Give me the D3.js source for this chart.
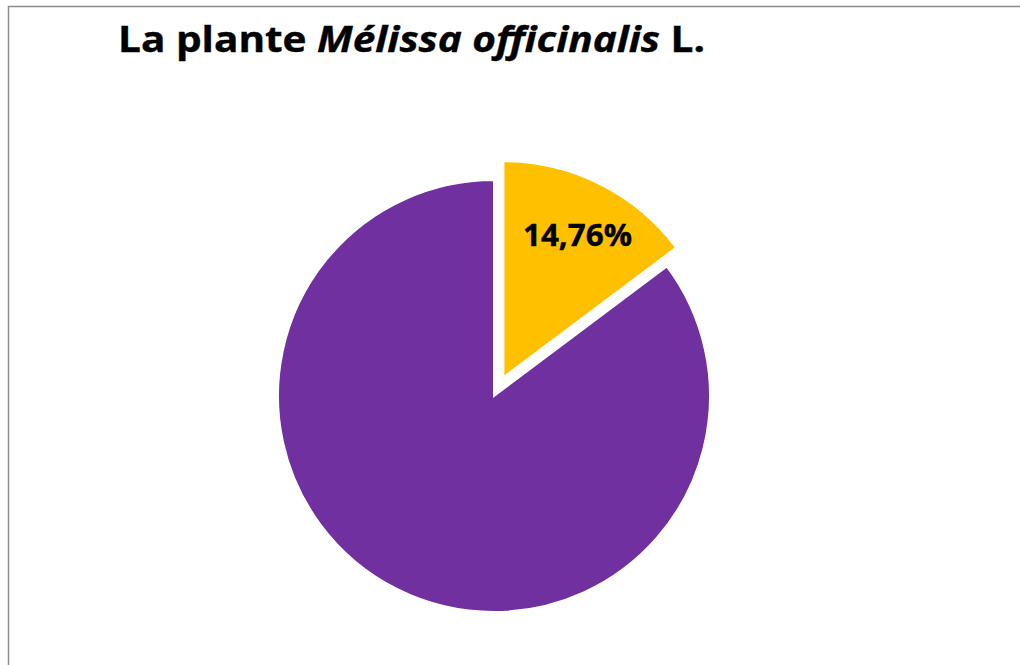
<!DOCTYPE html>
<html>
<head>
<meta charset="utf-8">
<script src="https://cdn.jsdelivr.net/npm/d3@7"></script>
<style>
  html, body { margin: 0; padding: 0; background: #fff; }
  svg { display: block; }
</style>
</head>
<body>
<svg id="chart" width="1020" height="665"></svg>
<script>
// Share of the plant's composition
const categories = ["Part A", "Part B"];
const shares = [14.76, 85.24];
const labels = ["14,76%", ""];
const colors = ["#FFC000", "#7030A0"];

const W = 1020, H = 665;
const svg = d3.select("#chart");
const FONT = "'Open Sans', 'Noto Sans', sans-serif";

// Squeeze a text node horizontally to a given width, anchored at (x, y)
function fitWidth(sel, x, y, width, anchor) {
  const w = sel.node().getComputedTextLength();
  const k = width / w;
  const x0 = anchor === "middle" ? x - width / 2 : x;
  sel.attr("x", 0).attr("y", 0).attr("text-anchor", "start")
     .attr("transform", `translate(${x0},${y}) scale(${k},1)`);
}

// Chart frame (runs off the right and bottom edges)
svg.append("rect")
  .attr("x", 8.5).attr("y", 6.5)
  .attr("width", W + 10).attr("height", H + 10)
  .attr("fill", "#fff")
  .attr("stroke", "#8c8c8c")
  .attr("stroke-width", 1.5);

// Title with italic species name
const title = svg.append("text")
  .attr("font-family", FONT)
  .attr("font-weight", 700)
  .attr("font-size", 36)
  .attr("fill", "#000")
  .attr("stroke", "#000")
  .attr("stroke-width", 0.4);
title.append("tspan").text("La plante ");
title.append("tspan").attr("font-style", "italic").text("Mélissa officinalis");
title.append("tspan").text(" L.");
fitWidth(title, 118, 52, 587, "start");

// Pie
const cx = 494, cy = 396, r = 216, explode = 21;
const pie = d3.pie().sort(null).value(d => d.v);
const arc = d3.arc().innerRadius(0).outerRadius(r);
const data = pie(categories.map((c, i) => ({ c, v: shares[i], label: labels[i], color: colors[i] })));

const g = svg.append("g").attr("transform", `translate(${cx},${cy})`);

const offset = d => {
  const a = (d.startAngle + d.endAngle) / 2;
  return [explode * Math.sin(a), -explode * Math.cos(a)];
};

const slices = g.selectAll("g.slice").data(data).enter().append("g")
  .attr("class", "slice")
  .attr("transform", (d, i) => i === 0 ? `translate(${offset(d)})` : null);

slices.append("path")
  .attr("d", arc)
  .attr("fill", d => d.data.color)
  .attr("stroke", "#fff")
  .attr("stroke-width", 2);

// Value label inside the exploded slice
slices.filter(d => d.data.label).append("text")
  .attr("font-family", FONT)
  .attr("font-weight", 700)
  .attr("font-size", 30)
  .attr("fill", "#000")
  .attr("stroke", "#000")
  .attr("stroke-width", 0.4)
  .text(d => d.data.label)
  .each(function (d) {
    const [ox, oy] = offset(d);
    fitWidth(d3.select(this), 577.5 - cx - ox, 246 - cy - oy, 109, "middle");
  });
</script>
</body>
</html>
